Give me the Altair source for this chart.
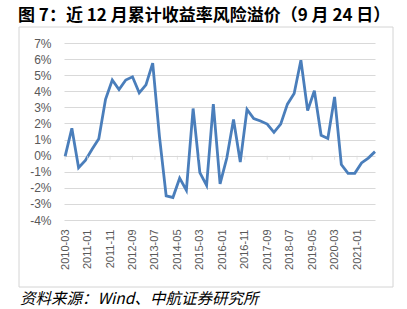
import altair as alt
import pandas as pd

# months since 2010-03 (quarterly observations)
months = [0, 3, 6, 9, 12, 15, 18, 21, 24, 27, 30, 33, 36, 39, 42, 45, 48, 51, 54, 57,
          60, 63, 66, 69, 72, 75, 78, 81, 84, 87, 90, 93, 96, 99, 102, 105, 108, 111,
          114, 117, 120, 123, 126, 129, 132, 135, 138]
premium = [-0.05, 1.7, -0.75, -0.3, 0.4, 1.05, 3.5, 4.7, 4.1, 4.7, 4.9, 3.9, 4.4, 5.75,
           1.2, -2.5, -2.6, -1.4, -2.15, 2.93, -1.05, -1.85, 3.2, -1.75, -0.15, 2.25,
           -0.4, 2.87, 2.31, 2.15, 1.96, 1.45, 1.96, 3.2, 3.86, 5.93, 2.8, 4.03, 1.27,
           1.07, 3.65, -0.55, -1.1, -1.1, -0.45, -0.15, 0.25]
tick_months = [0, 10, 20, 30, 40, 50, 60, 70, 80, 90, 100, 110, 120, 130]
y_ticks = [-4, -3, -2, -1, 0, 1, 2, 3, 4, 5, 6, 7]
title_text = "图 7：近 12 月累计收益率风险溢价（9 月 24 日）"
source_text = "资料来源：Wind、中航证券研究所"

df = pd.DataFrame({"m": months, "v": premium})
ticks_df = pd.DataFrame({"m": tick_months, "v": [0] * len(tick_months)})
one = pd.DataFrame({"t": [0]})

label_expr = ("(2010 + floor((datum.value + 2) / 12)) + '-' + "
              "(((datum.value + 2) % 12 + 1) < 10 ? '0' : '') + ((datum.value + 2) % 12 + 1)")

x_enc = alt.X("m:Q", scale=alt.Scale(domain=[-0.5, 138]), title=None,
              axis=alt.Axis(values=tick_months, labelExpr=label_expr, labelAngle=-90,
                            labelAlign="right", labelBaseline="middle", labelPadding=9,
                            labelFontSize=11, labelColor="#595959",
                            labelFont="Liberation Sans", labelOverlap=False,
                            labelBound=False, domain=False, ticks=False, grid=False))
y_enc = alt.Y("v:Q", scale=alt.Scale(domain=[-4, 7]), title=None,
              axis=alt.Axis(values=y_ticks, labelExpr="datum.value + '%'", labelFontSize=12,
                            labelColor="#595959", labelFont="Liberation Sans",
                            labelPadding=13, labelOverlap=False, labelBound=False,
                            domain=False, ticks=False, grid=True, gridColor="#d9d9d9",
                            gridWidth=1))

box = alt.Chart(one).mark_rect(fill="transparent", stroke="#d4d4d4", strokeWidth=1).encode(
    x=alt.value(-45), x2=alt.value(329), y=alt.value(-16), y2=alt.value(244)
)

line = alt.Chart(df).mark_line(color="#4a7ebb", strokeWidth=2.8,
                               strokeJoin="miter").encode(x=x_enc, y=y_enc)

tick_marks = alt.Chart(ticks_df).mark_tick(orient="vertical", size=4, thickness=1,
                                           color="#d9d9d9", yOffset=2).encode(x=x_enc, y=y_enc)

title = alt.Chart(one).mark_text(align="left", baseline="alphabetic", fontSize=17,
                                 fontWeight="bold", font="Noto Sans CJK SC",
                                 color="black").encode(
    x=alt.value(-46), y=alt.value(-22), text=alt.value(title_text)
)

source = alt.Chart(one).mark_text(align="left", baseline="alphabetic", fontSize=15.5,
                                  fontStyle="italic", font="Noto Sans CJK SC",
                                  color="black").encode(
    x=alt.value(-44), y=alt.value(261), text=alt.value(source_text)
)

chart = alt.layer(line, tick_marks, box, title, source).properties(
    width=311, height=177,
    autosize=alt.AutoSizeParams(type="none"),
    padding={"left": 64, "top": 43, "right": 32, "bottom": 89},
    background="white",
).configure_view(stroke=None)

chart.save("out.html", embed_options={"renderer": "svg", "actions": False})
